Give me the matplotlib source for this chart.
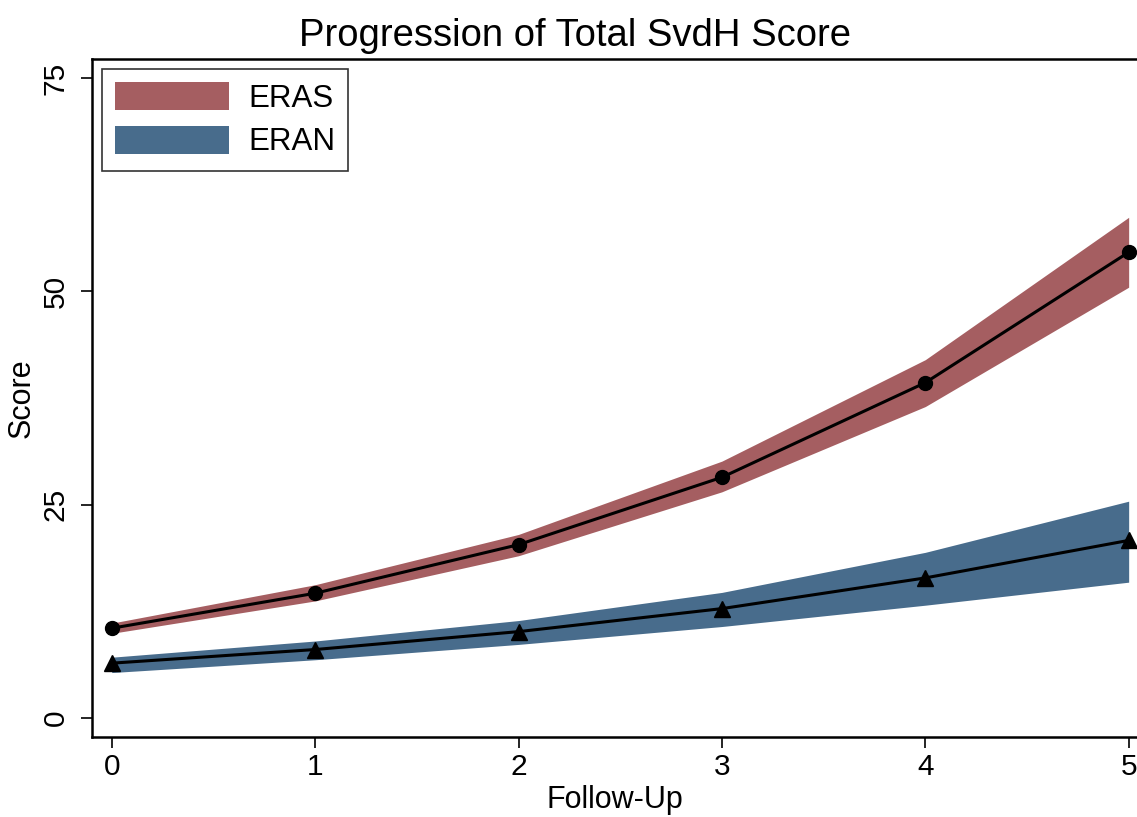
import matplotlib
matplotlib.use("Agg")
import matplotlib.pyplot as plt
import numpy as np

plt.rcParams['font.family'] = ['Liberation Sans', 'DejaVu Sans']

follow_up = [0, 1, 2, 3, 4, 5]

eras_mean = [10.5, 14.6, 20.3, 28.2, 39.3, 54.6]
eras_lo = [9.9, 13.7, 19.0, 26.5, 36.5, 50.5]
eras_hi = [11.1, 15.6, 21.5, 30.1, 42.0, 58.7]

eran_mean = [6.4, 8.0, 10.1, 12.8, 16.4, 20.8]
eran_lo = [5.3, 6.8, 8.6, 10.7, 13.2, 15.9]
eran_hi = [7.1, 9.0, 11.4, 14.7, 19.4, 25.4]

red = '#a55e61'
blue = '#486c8c'

fig = plt.figure(figsize=(11.37, 8.17), dpi=100)
ax = fig.add_axes([92/1137, 80/817, 1.0 - 92/1137, 678/817])

ax.fill_between(follow_up, eras_lo, eras_hi, color=red, lw=0, label='ERAS')
ax.fill_between(follow_up, eran_lo, eran_hi, color=blue, lw=0, label='ERAN')
ax.plot(follow_up, eras_mean, color='black', lw=2.2, marker='o', ms=10)
ax.plot(follow_up, eran_mean, color='black', lw=2.2, marker='^', ms=11)

ax.set_xlim(-0.097, 5.041)
ax.set_ylim(-2.26, 77.27)
ax.set_xticks([0, 1, 2, 3, 4, 5])
ax.set_yticks([0, 25, 50, 75])
ax.tick_params(axis='both', labelsize=21.5, length=8, width=1.2, direction='out')
ax.tick_params(axis='y', pad=8)
for lab in ax.get_yticklabels():
    lab.set_rotation(90)
    lab.set_va('center')

for s in ['left', 'bottom', 'top']:
    ax.spines[s].set_linewidth(1.8)
ax.spines['right'].set_visible(False)

# title sits a bit left of the axes centre in the original
ax.set_title('Progression of Total SvdH Score', fontsize=27.5, pad=9,
             x=(575 - 92) / 1045)
ax.set_xlabel('Follow-Up', fontsize=22, labelpad=3)
ax.set_ylabel('Score', fontsize=22, labelpad=4)

leg = ax.legend(loc='upper left', bbox_to_anchor=(102/1137, 1 - 69/817),
                bbox_transform=fig.transFigure, fontsize=22.5, frameon=True,
                fancybox=False, handlelength=3.65, handleheight=1.0,
                handletextpad=0.6, labelspacing=0.38, borderpad=0.42,
                borderaxespad=0)
leg.get_frame().set_edgecolor('black')
leg.get_frame().set_linewidth(1.2)

fig.savefig('out.png', dpi=100)
